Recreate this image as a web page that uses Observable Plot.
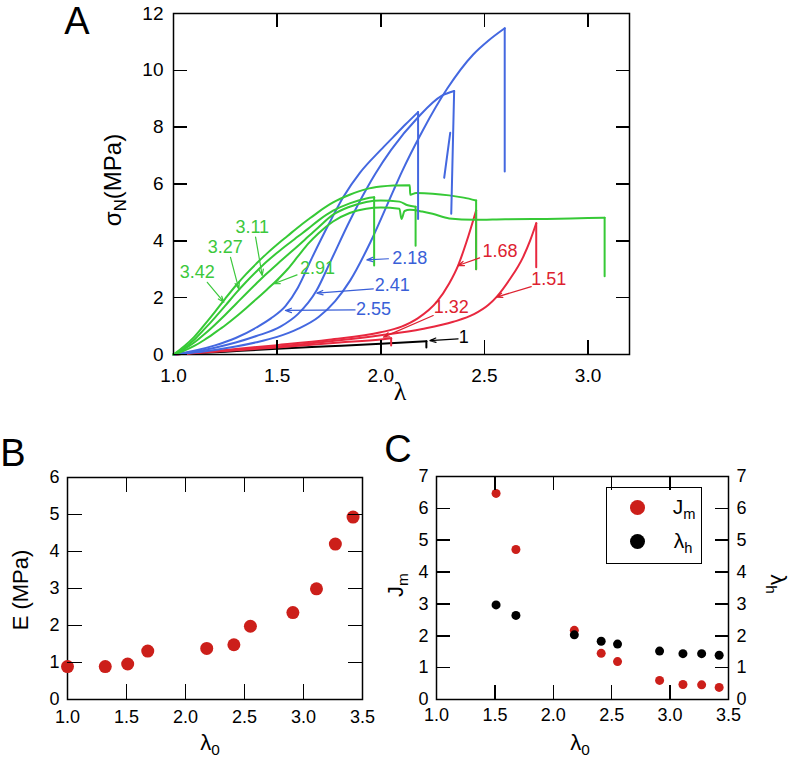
<!DOCTYPE html>
<html><head><meta charset="utf-8">
<script src="https://cdn.jsdelivr.net/npm/d3@7"></script>
<script src="https://cdn.jsdelivr.net/npm/@observablehq/plot@0.6"></script>
<style>
body{margin:0;background:#fff;font-family:"Liberation Sans",Arial,sans-serif;}
#fig{position:relative;width:793px;height:764px;overflow:hidden;background:#fff}
#fig > svg{position:absolute}
.t{position:absolute;white-space:nowrap;line-height:1;color:#000;font-family:"Liberation Sans",Arial,sans-serif}
.t sub{font-size:70%;vertical-align:-0.3em}
.legend{position:absolute;border:1.5px solid #000;box-sizing:border-box}
.ldot{position:absolute;border-radius:50%}
.tk{position:absolute;background:#000;z-index:4}
</style></head><body><div id="fig"></div>
<script>
// ---------- Panel A data: stress-strain curves (lambda, sigma_N in MPa); last point = value after break ----------
const xTicksA = [1.0, 1.5, 2.0, 2.5, 3.0];
const yTicksA = [0, 2, 4, 6, 8, 10, 12];

const curve_1    = [[1,0],[1.25,0.1],[1.5,0.2],[1.75,0.29],[2.0,0.38],[2.22,0.47],[2.22,0.25]];
const curve_1_32 = [[1,0],[1.25,0.12],[1.5,0.25],[1.8,0.42],[2.0,0.53],[2.05,0.57],[2.05,0.32]];
const curve_1_51 = [[1,0],[1.25,0.14],[1.5,0.28],[1.8,0.5],[2.0,0.68],[2.2,0.9],[2.35,1.15],[2.45,1.42],[2.52,1.75],[2.558,2.02],[2.62,2.62],[2.686,3.42],[2.72,4.0],[2.75,4.62],[2.75,3.07]];
const curve_1_68 = [[1,0],[1.25,0.16],[1.5,0.33],[1.75,0.52],[2.0,0.78],[2.1,0.98],[2.18,1.28],[2.27,1.85],[2.33,2.5],[2.373,3.13],[2.413,3.95],[2.46,5.07],[2.46,3.0]];

const curve_2_18 = [[1,0],[1.1,0.07],[1.2,0.16],[1.3,0.28],[1.4,0.43],[1.5,0.62],[1.6,0.9],[1.7,1.32],[1.78,1.88],[1.852,2.6],[1.95,3.95],[2.06,5.75],[2.1,6.4],[2.2,7.85],[2.32,9.35],[2.445,10.55],[2.52,11.05],[2.598,11.48],[2.598,6.44]];
const curve_2_41 = [[1,0],[1.1,0.1],[1.2,0.24],[1.3,0.42],[1.4,0.65],[1.516,0.98],[1.6,1.42],[1.69,2.25],[1.756,3.25],[1.85,4.7],[1.933,5.85],[1.973,6.35],[2.05,7.2],[2.18,8.35],[2.293,9.1],[2.354,9.27],[2.34,4.95]];
const spur_2_41  = [[2.335,7.8],[2.306,6.22]];
const curve_2_55 = [[1,0],[1.1,0.13],[1.2,0.32],[1.3,0.58],[1.4,0.95],[1.47,1.27],[1.54,1.7],[1.6,2.35],[1.668,3.4],[1.75,4.6],[1.82,5.55],[1.9,6.4],[2.0,7.2],[2.06,7.65],[2.12,8.1],[2.18,8.53],[2.18,4.77]];

const curve_2_91 = [[1,0],[1.05,0.13],[1.1,0.3],[1.15,0.52],[1.2,0.77],[1.25,1.03],[1.3,1.32],[1.35,1.63],[1.4,1.95],[1.45,2.28],[1.5,2.62],[1.55,3.0],[1.6,3.45],[1.65,3.9],[1.7,4.27],[1.77,4.68],[1.85,4.98],[1.93,5.13],[2.0,5.17],[2.09,5.13],[2.1,4.77],[2.115,5.05],[2.14,5.09],[2.2,5.03],[2.25,4.95],[2.33,4.79],[2.45,4.74],[2.6,4.76],[2.8,4.77],[3.0,4.8],[3.08,4.81],[3.08,2.75]];
const curve_3_11 = [[1,0],[1.05,0.18],[1.1,0.42],[1.15,0.72],[1.2,1.05],[1.25,1.4],[1.3,1.77],[1.35,2.14],[1.4,2.5],[1.45,2.85],[1.5,3.18],[1.55,3.5],[1.6,3.82],[1.65,4.15],[1.7,4.48],[1.77,4.92],[1.85,5.2],[1.93,5.37],[2.0,5.42],[2.09,5.38],[2.13,5.25],[2.168,5.2],[2.168,3.83]];
const curve_3_27 = [[1,0],[1.05,0.22],[1.1,0.52],[1.15,0.9],[1.2,1.3],[1.25,1.72],[1.3,2.15],[1.35,2.55],[1.4,2.92],[1.45,3.27],[1.5,3.58],[1.55,3.87],[1.6,4.15],[1.65,4.43],[1.7,4.72],[1.77,5.06],[1.85,5.32],[1.93,5.49],[1.968,5.53],[1.968,3.13]];
const curve_3_42 = [[1,0],[1.05,0.28],[1.1,0.62],[1.15,1.05],[1.2,1.5],[1.25,1.97],[1.3,2.42],[1.35,2.83],[1.4,3.2],[1.45,3.55],[1.5,3.87],[1.55,4.17],[1.6,4.47],[1.65,4.75],[1.7,5.02],[1.77,5.35],[1.85,5.62],[1.93,5.82],[2.0,5.91],[2.06,5.95],[2.14,5.96],[2.142,5.62],[2.17,5.68],[2.25,5.66],[2.33,5.6],[2.4,5.52],[2.46,5.42],[2.46,3.0]];

// annotation labels (text, lambda, sigma, group) and arrows (from -> to)
const labelTexts  = ["1","1.32","1.51","1.68","2.18","2.41","2.55","2.91","3.11","3.27","3.42"];
const labelGroups = ["black","red","red","red","blue","blue","blue","green","green","green","green"];
const labelLam    = [2.40, 2.34, 2.81, 2.575, 2.14, 2.055, 1.965, 1.695, 1.38, 1.25, 1.115];
const labelSig    = [0.61, 1.66, 2.66, 3.64, 3.40, 2.43, 1.61, 3.05, 4.48, 3.78, 2.90];
const arrowFrom   = [[2.373,0.55],[2.253,1.37],[2.726,2.39],[2.477,3.40],[2.037,3.37],[1.964,2.31],[1.876,1.57],[1.596,2.80],[1.396,4.13],[1.275,3.42],[1.163,2.54]];
const arrowTo     = [[2.237,0.49],[2.013,0.61],[2.558,2.02],[2.373,3.13],[1.933,3.33],[1.692,2.16],[1.540,1.55],[1.484,2.49],[1.428,2.78],[1.315,2.31],[1.243,1.84]];

// ---------- Panel B data ----------
const lambda0B = [1.0, 1.32, 1.51, 1.68, 2.18, 2.41, 2.55, 2.91, 3.11, 3.27, 3.42];
const E_MPa    = [0.89, 0.89, 0.96, 1.31, 1.38, 1.48, 1.98, 2.35, 2.99, 4.2, 4.93];

// ---------- Panel C data ----------
const lambda0C = [1.51, 1.68, 2.18, 2.41, 2.55, 2.91, 3.11, 3.27, 3.42];
const Jm       = [6.47, 4.71, 2.17, 1.45, 1.19, 0.60, 0.47, 0.46, 0.38];
const lambdaH  = [2.97, 2.64, 2.03, 1.83, 1.74, 1.52, 1.44, 1.44, 1.39];

const xTicksBC = [1.0, 1.5, 2.0, 2.5, 3.0, 3.5];
const yTicksB  = [0, 1, 2, 3, 4, 5, 6];
const yTicksC  = [0, 1, 2, 3, 4, 5, 6, 7];

// ---------- colours ----------
const COL = {black:"#000000", red:"#e8283f", blue:"#4468e0", green:"#36c936"};
const LABCOL = {black:"#000000", red:"#dd2230", blue:"#3a5fd8", green:"#3cc83c"};
const DOTRED = "#cc1f1a";

const fig = document.getElementById("fig");
const FONT = "Liberation Sans, Arial, sans-serif";

const curveList = [
  ["1", "black", curve_1], ["1.32","red",curve_1_32], ["1.51","red",curve_1_51], ["1.68","red",curve_1_68],
  ["2.18","blue",curve_2_18], ["2.41","blue",curve_2_41], ["2.55","blue",curve_2_55],
  ["2.91","green",curve_2_91], ["3.11","green",curve_3_11], ["3.27","green",curve_3_27], ["3.42","green",curve_3_42]
];
const riseRows = curveList.flatMap(([id, g, pts]) => pts.slice(0, -1).map(([lam, sig]) => ({id, g, lam, sig})));
const dropRows = curveList.flatMap(([id, g, pts]) => pts.slice(-2).map(([lam, sig]) => ({id, g, lam, sig})))
  .concat(spur_2_41.map(([lam, sig]) => ({id: "2.41s", g: "blue", lam, sig})));
const annoLabels = labelTexts.map((t,i) => ({t, g: labelGroups[i], lam: labelLam[i], sig: labelSig[i]}));
const annoArrows = arrowFrom.map((f,i) => ({x1:f[0], y1:f[1], x2:arrowTo[i][0], y2:arrowTo[i][1], g: labelGroups[i]}));

// inward tick marks on all four sides, positioned through the plot's own x / y scales
function addTicks(p, L, T, W, H, mL, mR, mT, mB, xt, yt, len) {
  const sx = p.scale("x"), sy = p.scale("y");
  const w = 1.5;
  const mk = (left, top, width, height) => {
    const d = document.createElement("div");
    d.className = "tk";
    Object.assign(d.style, {left: left + "px", top: top + "px", width: width + "px", height: height + "px"});
    fig.appendChild(d);
  };
  xt.forEach(v => {
    const x = L + sx.apply(v) + 0.5 - w / 2;
    mk(x, T + H - mB - len, w, len);      // bottom, pointing up
    mk(x, T + mT, w, len);                // top, pointing down
  });
  yt.forEach(v => {
    const y = T + sy.apply(v) + 0.5 - w / 2;
    mk(L + mL, y, len, w);                // left, pointing right
    mk(L + W - mR - len + 1, y, len, w);  // right, pointing left
  });
}
const tickJobs = [];

// ---------- Panel A ----------
{
  const W = 660, H = 400, mL = 173, mR = 31, mT = 13, mB = 46;
  const xd = [1, 3.2], yd = [0, 12];
  const groups = ["black","red","blue","green"];
  const p = Plot.plot({
    width: W, height: H, marginLeft: mL, marginRight: mR, marginTop: mT, marginBottom: mB,
    style: {fontFamily: FONT, fontSize: "19px", color: "black", background: "transparent"},
    x: {domain: xd},
    y: {domain: yd},
    marks: [
      Plot.frame({stroke: "black", strokeWidth: 1.5}),
      ...groups.map(g => Plot.line(riseRows.filter(d => d.g === g), {x: "lam", y: "sig", z: "id", stroke: COL[g], strokeWidth: 2, curve: "monotone-x"})),
      ...groups.map(g => Plot.line(dropRows.filter(d => d.g === g), {x: "lam", y: "sig", z: "id", stroke: COL[g], strokeWidth: 2})),
      Plot.arrow(annoArrows, {x1: "x1", y1: "y1", x2: "x2", y2: "y2", stroke: d => LABCOL[d.g], strokeWidth: 1.2, headLength: 8, headAngle: 40}),
      Plot.text(annoLabels, {x: "lam", y: "sig", text: "t", fill: d => LABCOL[d.g], fontSize: 18, fontFamily: FONT}),
      Plot.axisX(xTicksA, {tickSize: 0, tickPadding: 14, tickFormat: d3.format(".1f"), label: null, fontSize: 19}),
      Plot.axisY(yTicksA, {tickSize: 0, tickPadding: 10, label: null, fontSize: 19})
    ]
  });
  p.style.left = "0px"; p.style.top = "0px";
  fig.appendChild(p);
  tickJobs.push(() => addTicks(p, 0, 0, W, H, mL, mR, mT, mB, xTicksA, yTicksA, 14));
}

// ---------- Panel B ----------
{
  const L = 0, T = 440, W = 390, H = 320;
  const mL = 67, mR = 28, mT = 37, mB = 61;
  const xd = [1, 3.5], yd = [0, 6];
  const dataB = lambda0B.map((x,i) => ({x, y: E_MPa[i]}));
  const p = Plot.plot({
    width: W, height: H, marginLeft: mL, marginRight: mR, marginTop: mT, marginBottom: mB,
    style: {fontFamily: FONT, fontSize: "18px", color: "black", background: "transparent"},
    x: {domain: xd},
    y: {domain: yd},
    marks: [
      Plot.frame({stroke: "black", strokeWidth: 1.5}),
      Plot.dot(dataB, {x: "x", y: "y", r: 6.5, fill: DOTRED, stroke: "none"}),
      Plot.axisX(xTicksBC, {tickSize: 0, tickPadding: 11, tickFormat: d3.format(".1f"), label: null, fontSize: 18}),
      Plot.axisY(yTicksB, {tickSize: 0, tickPadding: 8, label: null, fontSize: 18})
    ]
  });
  p.style.left = L + "px"; p.style.top = T + "px";
  fig.appendChild(p);
  tickJobs.push(() => addTicks(p, L, T, W, H, mL, mR, mT, mB, xTicksBC, yTicksB, 15));
}

// ---------- Panel C ----------
{
  const L = 390, T = 440, W = 403, H = 320;
  const mL = 46, mR = 65, mT = 36, mB = 61;
  const xd = [1, 3.5], yd = [0, 7];
  const dataJ = lambda0C.map((x,i) => ({x, y: Jm[i]}));
  const dataH = lambda0C.map((x,i) => ({x, y: lambdaH[i]}));
  const p = Plot.plot({
    width: W, height: H, marginLeft: mL, marginRight: mR, marginTop: mT, marginBottom: mB,
    style: {fontFamily: FONT, fontSize: "18px", color: "black", background: "transparent"},
    x: {domain: xd},
    y: {domain: yd},
    marks: [
      Plot.frame({stroke: "black", strokeWidth: 1.5}),
      Plot.dot(dataJ, {x: "x", y: "y", r: 4.5, fill: DOTRED, stroke: "none"}),
      Plot.dot(dataH, {x: "x", y: "y", r: 4.5, fill: "black", stroke: "none"}),
      Plot.axisX(xTicksBC, {tickSize: 0, tickPadding: 9, tickFormat: d3.format(".1f"), label: null, fontSize: 18}),
      Plot.axisY(yTicksC, {anchor: "left", tickSize: 0, tickPadding: 8, label: null, fontSize: 18}),
      Plot.axisY(yTicksC, {anchor: "right", tickSize: 0, tickPadding: 8, label: null, fontSize: 18})
    ]
  });
  p.style.left = L + "px"; p.style.top = T + "px";
  fig.appendChild(p);
  tickJobs.push(() => addTicks(p, L, T, W, H, mL, mR, mT, mB, xTicksBC, yTicksC, 14));
}

// ---------- text overlays (panel letters, axis titles, legend) ----------
function place(html, cx, cy, size, rot = 0, family = null) {
  const d = document.createElement("div");
  d.className = "t";
  d.innerHTML = html;
  d.style.fontSize = size + "px";
  if (family) d.style.fontFamily = family;
  d.style.left = cx + "px"; d.style.top = cy + "px";
  d.style.transform = `translate(-50%,-50%) rotate(${rot}deg)`;
  fig.appendChild(d);
  return d;
}
place("A", 77, 21, 38);
place("B", 13, 453, 38);
place("C", 398, 449, 38);

place("σ<sub>N</sub>(MPa)", 115, 180, 24, -90);
place("λ", 400, 392, 26, 0, "Liberation Serif, serif");
place("E (MPa)", 21, 590, 22, -90);
place("λ<sub>0</sub>", 210, 745, 22, 0);
place("J<sub>m</sub>", 398, 585, 22, -90);
place("λ<sub>0</sub>", 580, 745, 22, 0);
place("λ<sub>h</sub>", 776, 584, 22, 90);

// legend for panel C
const lg = document.createElement("div");
lg.className = "legend";
Object.assign(lg.style, {left: "606px", top: "487px", width: "96px", height: "77px"});
fig.appendChild(lg);
function ldot(cx, cy, color) {
  const d = document.createElement("div");
  d.className = "ldot";
  Object.assign(d.style, {left: (cx - 7.5) + "px", top: (cy - 7.5) + "px", width: "15px", height: "15px", background: color});
  fig.appendChild(d);
}
ldot(637, 507, DOTRED);
ldot(637, 541, "black");
place("J<sub>m</sub>", 684, 509, 21);
place("λ<sub>h</sub>", 683, 543, 21);

// tick marks last, on top
tickJobs.forEach(f => f());
</script></body></html>
